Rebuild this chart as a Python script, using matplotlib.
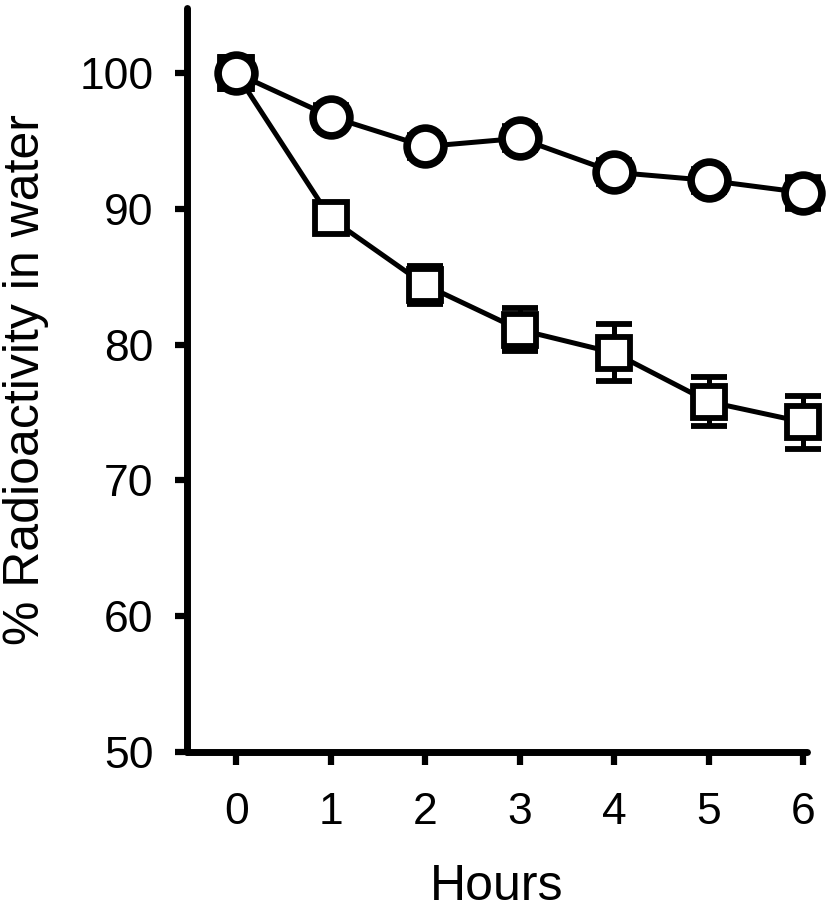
import numpy as np
import matplotlib
matplotlib.use("Agg")
import matplotlib.pyplot as plt

plt.rcParams['font.family'] = ['Liberation Sans', 'DejaVu Sans']

hours = [0, 1, 2, 3, 4, 5, 6]
circle_vals = [100.0, 96.8, 94.6, 95.2, 92.7, 92.1, 91.2]
circle_err = [1.1, 0.8, 0.8, 0.8, 0.8, 0.8, 1.1]
square_vals = [100.0, 89.3, 84.4, 81.1, 79.4, 75.8, 74.3]
square_err = [1.0, 1.0, 1.4, 1.6, 2.1, 1.8, 1.95]

fig = plt.figure(figsize=(8.27, 9.17), dpi=100)
ax = fig.add_axes([0.2261, 0.1799, 0.7497, 0.8114])

sq = ax.errorbar(hours, square_vals, yerr=square_err, marker='s', ms=23, mfc='white',
                 mec='black', mew=4.2, color='black', lw=3.6, elinewidth=3.6,
                 capsize=13, capthick=3.6, zorder=3)
ci = ax.errorbar(hours, circle_vals, yerr=circle_err, marker='o', ms=26.5, mfc='white',
                 mec='black', mew=5.5, color='black', lw=3.6, elinewidth=3.6,
                 capsize=13, capthick=3.6, zorder=4)
for cont in (sq, ci):
    for art in cont.get_children():
        art.set_clip_on(False)

ax.set_xlim(-0.52, 6.04)
ax.set_ylim(50, 104.8)
ax.set_xticks(hours)
ax.set_yticks([50, 60, 70, 80, 90, 100])

for s in ['top', 'right']:
    ax.spines[s].set_visible(False)
for s in ['left', 'bottom']:
    ax.spines[s].set_linewidth(5)
    ax.spines[s].set_capstyle('round')

ax.tick_params(axis='both', width=4.5, length=9, labelsize=32)
ax.tick_params(axis='y', pad=15)
ax.tick_params(axis='x', pad=20)

ax.set_xlabel("Hours", fontsize=36, labelpad=22)
ax.set_ylabel("% Radioactivity in water", fontsize=36, labelpad=22)

fig.savefig("out.png", dpi=100)
